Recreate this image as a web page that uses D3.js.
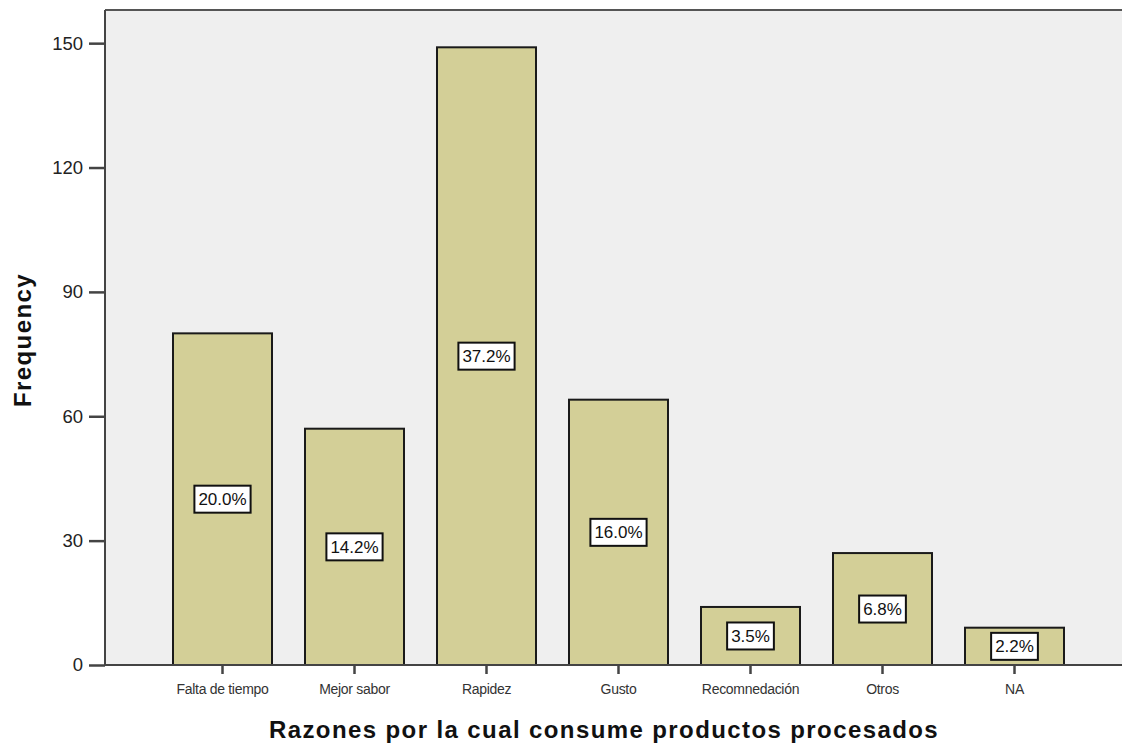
<!DOCTYPE html>
<html>
<head>
<meta charset="utf-8">
<script src="https://cdn.jsdelivr.net/npm/d3@7"></script>
<style>
  body { margin: 0; background: #fff; }
  svg { display: block; font-family: "Liberation Sans", Arial, sans-serif; }
</style>
</head>
<body>
<svg id="chart" width="1122" height="746"></svg>
<script>
// data
const categories = ["Falta de tiempo", "Mejor sabor", "Rapidez", "Gusto", "Recomnedación", "Otros", "NA"];
const counts = [80, 57, 149, 64, 14, 27, 9];
const percentLabels = ["20.0%", "14.2%", "37.2%", "16.0%", "3.5%", "6.8%", "2.2%"];
const yTicks = [0, 30, 60, 90, 120, 150];

const svg = d3.select("#chart");
const width = 1122, height = 746;

// plot frame
const plotLeft = 105, plotTop = 10, plotBottom = 665;

const x = d3.scaleBand()
    .domain(categories)
    .range([156.5, 1080.5])
    .paddingInner(0.25)
    .paddingOuter(0.125);

const y = d3.scaleLinear()
    .domain([0, 158])
    .range([plotBottom, plotTop]);

// plot background
svg.append("rect")
    .attr("x", plotLeft)
    .attr("y", plotTop)
    .attr("width", width - plotLeft)
    .attr("height", plotBottom - plotTop)
    .attr("fill", "#efefef");

// top border
svg.append("line")
    .attr("x1", plotLeft).attr("x2", width)
    .attr("y1", plotTop).attr("y2", plotTop)
    .attr("stroke", "#555").attr("stroke-width", 2);

// bars
const data = categories.map((c, i) => ({ cat: c, value: counts[i], label: percentLabels[i] }));

svg.append("g")
    .attr("class", "bars")
    .selectAll("rect")
    .data(data)
    .enter().append("rect")
    .attr("x", d => x(d.cat))
    .attr("y", d => y(d.value))
    .attr("width", x.bandwidth())
    .attr("height", d => y(0) - y(d.value))
    .attr("fill", "#d3cf97")
    .attr("stroke", "#1a1a1a")
    .attr("stroke-width", 2);

// percentage labels in white boxes
const labels = svg.append("g")
    .attr("class", "pct")
    .selectAll("g")
    .data(data)
    .enter().append("g")
    .attr("transform", d => `translate(${x(d.cat) + x.bandwidth() / 2},${(y(0) + y(d.value)) / 2})`);

labels.append("text")
    .attr("text-anchor", "middle")
    .attr("dy", "0.36em")
    .attr("font-size", 17)
    .attr("fill", "#111")
    .text(d => d.label);

labels.each(function() {
    const g = d3.select(this);
    const bb = g.select("text").node().getBBox();
    g.insert("rect", "text")
        .attr("x", bb.x - 4)
        .attr("y", -13.5)
        .attr("width", bb.width + 8)
        .attr("height", 27)
        .attr("fill", "#fff")
        .attr("stroke", "#111")
        .attr("stroke-width", 2);
});

// y axis
const yAxis = svg.append("g")
    .attr("transform", `translate(${plotLeft},0)`)
    .call(d3.axisLeft(y).tickValues(yTicks).tickSize(16).tickPadding(6).tickSizeOuter(0));
yAxis.select(".domain").remove();
yAxis.selectAll(".tick line").attr("stroke", "#444").attr("stroke-width", 2.5);
yAxis.selectAll(".tick text")
    .attr("font-size", 18.5)
    .attr("font-family", "Liberation Sans, Arial, sans-serif")
    .attr("fill", "#222");

svg.append("line")
    .attr("x1", plotLeft).attr("x2", plotLeft)
    .attr("y1", plotTop).attr("y2", plotBottom)
    .attr("stroke", "#444").attr("stroke-width", 2);

// x axis
const xAxis = svg.append("g")
    .attr("transform", `translate(0,${plotBottom})`)
    .call(d3.axisBottom(x).tickSize(9).tickPadding(10).tickSizeOuter(0));
xAxis.select(".domain").remove();
xAxis.selectAll(".tick line").attr("stroke", "#444").attr("stroke-width", 2.5);
xAxis.selectAll(".tick text")
    .attr("font-size", 14)
    .attr("font-family", "Liberation Sans, Arial, sans-serif")
    .attr("letter-spacing", -0.3)
    .attr("fill", "#333");

svg.append("line")
    .attr("x1", plotLeft).attr("x2", width)
    .attr("y1", plotBottom).attr("y2", plotBottom)
    .attr("stroke", "#444").attr("stroke-width", 2);

// axis titles
svg.append("text")
    .attr("x", 604)
    .attr("y", 738)
    .attr("text-anchor", "middle")
    .attr("font-size", 24)
    .attr("font-weight", "bold")
    .attr("letter-spacing", 1.4)
    .attr("fill", "#111")
    .text("Razones por la cual consume productos procesados");

svg.append("text")
    .attr("transform", "translate(31,340) rotate(-90)")
    .attr("text-anchor", "middle")
    .attr("font-size", 24)
    .attr("font-weight", "bold")
    .attr("letter-spacing", 1.4)
    .attr("fill", "#111")
    .text("Frequency");
</script>
</body>
</html>
